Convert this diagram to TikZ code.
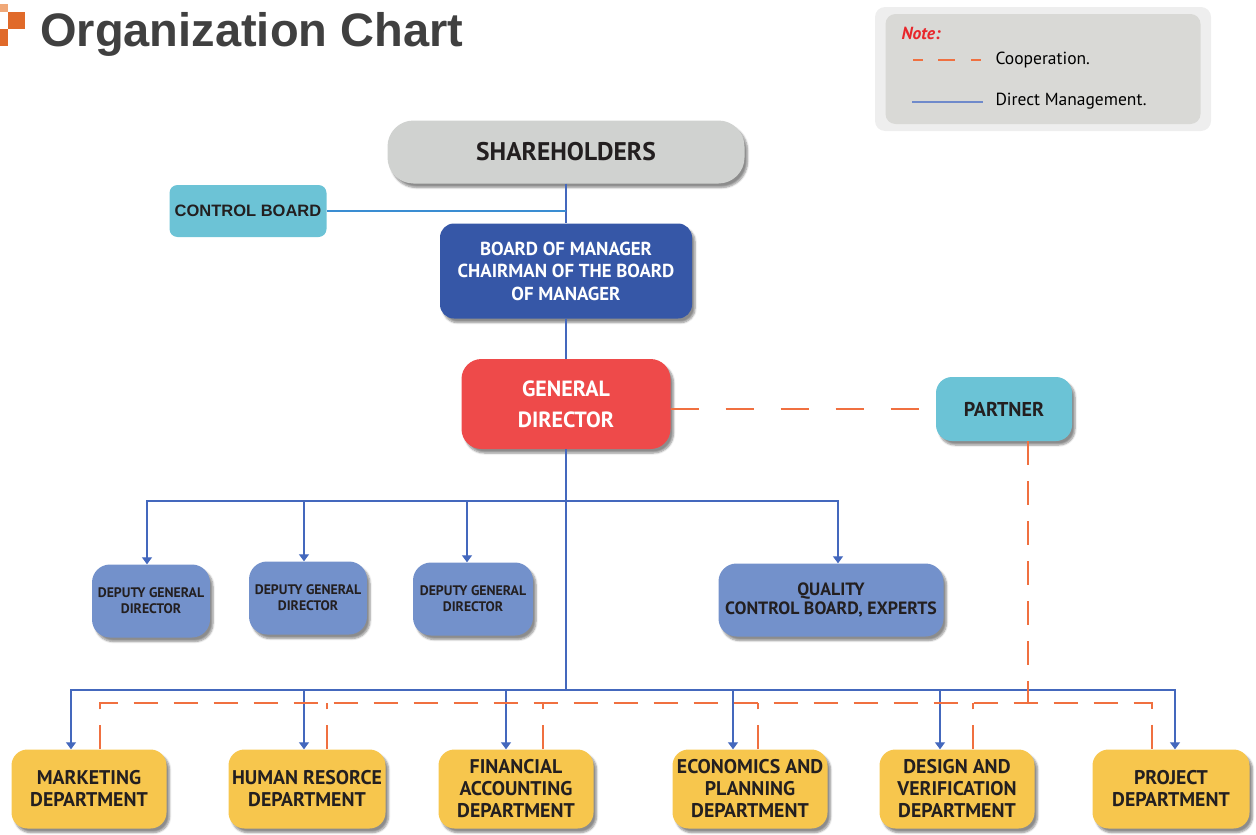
\documentclass[tikz,border=0pt]{standalone}
\usepackage{fontspec}
\setmainfont{PT Sans}
\newfontfamily\arialfont{Liberation Sans}
\usetikzlibrary{arrows.meta, shadows.blur}
\definecolor{shgray}{HTML}{D0D2D0}
\definecolor{ctrlcyan}{HTML}{6CC3D6}
\definecolor{bomblue}{HTML}{3657A7}
\definecolor{gdred}{HTML}{EE4A4A}
\definecolor{ptcyan}{HTML}{6BC3D6}
\definecolor{deputyblue}{HTML}{7391CB}
\definecolor{deptyellow}{HTML}{F7C64D}
\definecolor{lineblue}{HTML}{4468BD}
\definecolor{ctrlblue}{HTML}{3A8DD2}
\definecolor{coopred}{HTML}{F07040}
\definecolor{textdark}{HTML}{231F20}
\definecolor{titlegray}{HTML}{404040}
\definecolor{notered}{HTML}{E8262B}
\definecolor{legendout}{HTML}{EEEEEE}
\definecolor{legendin}{HTML}{D9D9D6}
\definecolor{legendblue}{HTML}{6F8ACB}
\definecolor{logoorange}{HTML}{E06A2A}
\definecolor{logolight}{HTML}{F0A878}
\newcommand{\fsz}[2]{\fontsize{#1}{#2}\selectfont}

\begin{document}
\begin{tikzpicture}[x=1pt, y=-1pt,
    box/.style={rounded corners=16pt, align=center, inner sep=0pt, text=textdark},
    sbox/.style={box, blur shadow={shadow xshift=3pt, shadow yshift=-4pt,
        shadow blur steps=6, shadow opacity=45}},
    deputy/.style={sbox, fill=deputyblue, minimum height=73pt, rounded corners=18pt,
        font=\bfseries\fsz{13.8}{16}},
    dept/.style={sbox, fill=deptyellow, minimum width=155pt, minimum height=79pt,
        font=\bfseries\fsz{19.8}{22}},
    mgmt/.style={draw=lineblue, line width=1.3pt},
    arr/.style={mgmt, -{Triangle[width=10pt, length=7pt]}},
    coop/.style={draw=coopred, line width=1.6pt, dash pattern=on 24pt off 16pt}]
    \useasboundingbox (0,0) rectangle (1256,835);

    % title and legend
    \fill[logolight] (0,4) rectangle (8,12);
    \fill[logoorange] (8,12) rectangle (25,29);
    \fill[logoorange] (0,29) rectangle (8,46);
    \node[anchor=base west, inner sep=0pt, text=titlegray,
      font=\arialfont\bfseries\fsz{47}{50}] (title) at (40,46) {Organization Chart};
    \node[fill=legendout, rounded corners=10pt, minimum width=336pt,
      minimum height=124pt, inner sep=0pt] (legout) at (1043,69) {};
    \node[fill=legendin, rounded corners=10pt, minimum width=315pt,
      minimum height=110pt, inner sep=0pt] (legin) at (legout) {};
    \node[anchor=west, text=notered, font=\bfseries\itshape\fsz{17.5}{19}] (note)
      at (898,33) {Note:};
    \coordinate (coopa) at (913,60);
    \coordinate (coopb) at (983,60);
    \draw[coop, line width=1.3pt, dash pattern=on 10pt off 15pt on 17pt off 16pt]
      (coopa) -- (coopb);
    \node[anchor=west, font=\fsz{17.5}{19}] (cooptxt) at (992,60) {Cooperation.};
    \coordinate (dma) at (912,102);
    \coordinate (dmb) at (983,102);
    \draw[mgmt, draw=legendblue] (dma) -- (dmb);
    \node[anchor=west, font=\fsz{17.5}{19}] (dmtxt) at (992,101) {Direct Management.};

    % top of the chart
    \node[sbox, fill=shgray, rounded corners=26pt, minimum width=357pt,
      minimum height=63pt, font=\bfseries\fsz{25.5}{28}] (share) at (566,152) {SHAREHOLDERS};
    \node[box, fill=ctrlcyan, rounded corners=8pt, minimum width=157pt,
      minimum height=52pt, font=\arialfont\bfseries\fsz{16.5}{18}] (ctrl)
      at (248,211) {CONTROL BOARD};
    \node[sbox, fill=bomblue, text=white, rounded corners=14pt, minimum width=252pt,
      minimum height=95pt, font=\bfseries\fsz{18.8}{22.5}] (bom) at (566,271)
      {BOARD OF MANAGER\\CHAIRMAN OF THE BOARD\\OF MANAGER};
    \node[sbox, fill=gdred, text=white, rounded corners=20pt, minimum width=209pt,
      minimum height=90pt, font=\bfseries\fsz{22}{31}] (gd) at (566,404)
      {GENERAL\\DIRECTOR};
    \node[sbox, fill=ptcyan, rounded corners=16pt, minimum width=136pt,
      minimum height=64pt, font=\bfseries\fsz{20}{22}] (partner) at (1004,409) {PARTNER};

    % deputies
    \node[deputy, minimum width=118pt] (dep1) at (151,601) {DEPUTY GENERAL\\DIRECTOR};
    \node[deputy, minimum width=118pt] (dep2) at (308,598) {DEPUTY GENERAL\\DIRECTOR};
    \node[deputy, minimum width=120pt] (dep3) at (473,599) {DEPUTY GENERAL\\DIRECTOR};
    \node[deputy, minimum width=225pt, font=\bfseries\fsz{17.8}{19}] (qual) at (831,600)
      {QUALITY\\CONTROL BOARD, EXPERTS};

    % departments
    \node[dept] (mkt) at (89,789) {MARKETING\\DEPARTMENT};
    \node[dept, minimum width=157pt] (hr) at (307,789) {HUMAN RESORCE\\DEPARTMENT};
    \node[dept] (fin) at (516,789) {FINANCIAL\\ACCOUNTING\\DEPARTMENT};
    \node[dept] (eco) at (750,789) {ECONOMICS AND\\PLANNING\\DEPARTMENT};
    \node[dept] (des) at (957,789) {DESIGN AND\\VERIFICATION\\DEPARTMENT};
    \node[dept, minimum width=157pt] (proj) at (1171,789) {PROJECT\\DEPARTMENT};

    \coordinate (dbus) at (566,501);
    \coordinate (bus) at (566,690);
    \coordinate (cbus) at (566,703);

    % direct management
    \draw[mgmt] (share) -- (bom);
    \draw[mgmt] (bom) -- (gd);
    \draw[mgmt] (gd) -- (bus);
    \draw[mgmt, draw=ctrlblue] (ctrl) -- (ctrl -| share);
    \draw[arr] (dbus) -| ([xshift=-4pt]dep1.north);
    \draw[arr] (dbus) -| ([xshift=-4pt]dep2.north);
    \draw[arr] (dbus) -| ([xshift=-6pt]dep3.north);
    \draw[arr] (dbus) -| ([xshift=7pt]qual.north);
    \draw[arr] (bus) -| ([xshift=-18pt]mkt.north);
    \draw[arr] (bus) -| ([xshift=-3pt]hr.north);
    \draw[arr] (bus) -| ([xshift=-10pt]fin.north);
    \draw[arr] (bus) -| ([xshift=-17pt]eco.north);
    \draw[arr] (bus) -| ([xshift=-17pt]des.north);
    \draw[arr] (bus) -| ([xshift=4pt]proj.north);

    % cooperation
    \draw[coop, dash pattern=on 28pt off 27pt] (gd.east |- partner) -- (partner.west);
    \draw[coop] ([xshift=24pt]partner.south) -- ([xshift=24pt]partner.south |- cbus);
    \draw[coop] ([xshift=11pt]mkt.north) -- ([xshift=11pt]mkt.north |- cbus)
      -| ([xshift=-19pt]proj.north);
    \draw[coop] ([xshift=20pt]hr.north) -- ([xshift=20pt]hr.north |- cbus);
    \draw[coop] ([xshift=27pt]fin.north) -- ([xshift=27pt]fin.north |- cbus);
    \draw[coop] ([xshift=8pt]eco.north) -- ([xshift=8pt]eco.north |- cbus);
    \draw[coop] ([xshift=16pt]des.north) -- ([xshift=16pt]des.north |- cbus);
\end{tikzpicture}
\end{document}
